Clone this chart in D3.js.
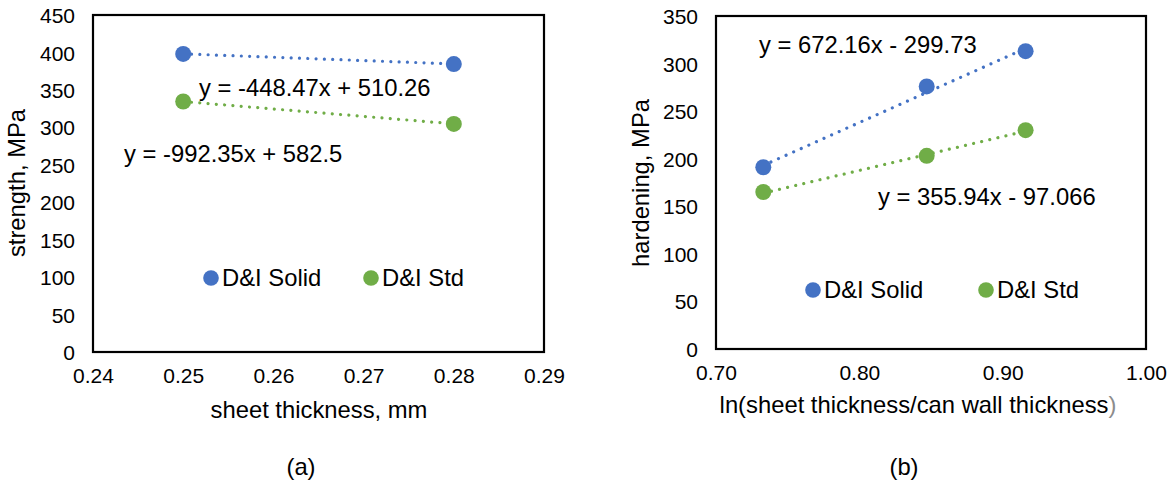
<!DOCTYPE html>
<html><head><meta charset="utf-8">
<script src="https://cdn.jsdelivr.net/npm/d3@7"></script>
<style>
body{margin:0;background:#fff;}
svg{display:block;font-family:"Liberation Sans",Arial,sans-serif;}
</style></head><body>
<svg id="c" width="1174" height="484"></svg>
<script>
// ---- Data ----
const seriesNames = ["D&I Solid", "D&I Std"];
const seriesColors = ["#4472C4", "#70AD47"];

// Chart (a)
const aX = [0.25, 0.28];
const aSolid = [398, 384.5];
const aStd = [334.5, 304.5];
const aTrend = [[-448.47, 510.26], [-992.35, 582.5]];
const aEqText = ["y = -448.47x + 510.26", "y = -992.35x + 582.5"];
const aXTicks = [0.24, 0.25, 0.26, 0.27, 0.28, 0.29];
const aYTicks = [0, 50, 100, 150, 200, 250, 300, 350, 400, 450];

// Chart (b)
const bX = [0.733, 0.847, 0.916];
const bSolid = [191, 276, 313];
const bStd = [165, 203, 230];
const bTrend = [[672.16, -299.73], [355.94, -97.066]];
const bEqText = ["y = 672.16x - 299.73", "y = 355.94x - 97.066"];
const bXTicks = [0.70, 0.80, 0.90, 1.00];
const bYTicks = [0, 50, 100, 150, 200, 250, 300, 350];

const svg = d3.select("#c");
const BIG = 23.8, TICK = 21;

function drawChart(cfg) {
  const g = svg.append("g");
  const x = d3.scaleLinear().domain(cfg.xDomain).range([cfg.left, cfg.right]);
  const y = d3.scaleLinear().domain(cfg.yDomain).range([cfg.bottom, cfg.top]);

  // y axis
  const ya = g.append("g").attr("transform", `translate(${cfg.left},0)`)
    .call(d3.axisLeft(y).tickValues(cfg.yTicks).tickSize(0).tickPadding(18).tickFormat(d3.format("d")));
  ya.select(".domain").remove();
  ya.selectAll("text").attr("font-size", TICK).attr("font-family", "Liberation Sans, Arial, sans-serif")
    .attr("fill", "#000").attr("dy", "0.36em");

  // x axis
  const xa = g.append("g").attr("transform", `translate(0,${cfg.bottom})`)
    .call(d3.axisBottom(x).tickValues(cfg.xTicks).tickSize(0).tickPadding(0).tickFormat(d3.format(cfg.xFmt)));
  xa.select(".domain").remove();
  xa.selectAll("text").attr("font-size", TICK).attr("font-family", "Liberation Sans, Arial, sans-serif")
    .attr("fill", "#000").attr("dy", null).attr("y", cfg.xLabelBase);

  // box
  g.append("rect").attr("x", cfg.left).attr("y", cfg.top)
    .attr("width", cfg.right - cfg.left).attr("height", cfg.bottom - cfg.top)
    .attr("fill", "none").attr("stroke", "#000").attr("stroke-width", 2.2);

  // trendlines
  cfg.series.forEach((ys, i) => {
    const [m, b] = cfg.trend[i];
    const x0 = d3.min(cfg.xs), x1 = d3.max(cfg.xs);
    g.append("line")
      .attr("x1", x(x0)).attr("y1", y(m * x0 + b))
      .attr("x2", x(x1)).attr("y2", y(m * x1 + b))
      .attr("stroke", seriesColors[i]).attr("stroke-width", 3.2)
      .attr("stroke-linecap", "round").attr("stroke-dasharray", "0.01 8.3");
  });
  // points
  cfg.series.forEach((ys, i) => {
    g.selectAll(null).data(ys).enter().append("circle")
      .attr("cx", (d, j) => x(cfg.xs[j])).attr("cy", d => y(d))
      .attr("r", 8).attr("fill", seriesColors[i]);
  });
  // equations
  cfg.eqText.forEach((t, i) => {
    g.append("text").attr("x", cfg.eqPos[i][0]).attr("y", cfg.eqPos[i][1])
      .attr("font-size", BIG).attr("fill", "#000").text(t);
  });
  // legend
  cfg.legend.forEach((p, i) => {
    g.append("circle").attr("cx", p[0]).attr("cy", p[1]).attr("r", 7.8).attr("fill", seriesColors[i]);
    g.append("text").attr("x", p[0] + 11).attr("y", p[1] + 8.3)
      .attr("font-size", BIG).attr("fill", "#000").text(seriesNames[i]);
  });
  // axis titles
  const xt = g.append("text").attr("x", cfg.xTitle[0]).attr("y", cfg.xTitle[1])
    .attr("text-anchor", "middle").attr("font-size", BIG).attr("fill", "#000");
  cfg.xTitleParts.forEach(p => xt.append("tspan").attr("fill", p[1]).text(p[0]));
  g.append("text").attr("transform", `translate(${cfg.yTitle[0]},${cfg.yTitle[1]}) rotate(-90)`)
    .attr("text-anchor", "middle").attr("font-size", BIG).attr("fill", "#000").text(cfg.yTitleText);
  // panel label
  g.append("text").attr("x", cfg.panel[0]).attr("y", cfg.panel[1]).attr("text-anchor", "middle")
    .attr("font-size", BIG).attr("fill", "#000").text(cfg.panelText);
}

drawChart({
  left: 93, right: 544, top: 15, bottom: 352,
  xDomain: [0.24, 0.29], yDomain: [0, 450],
  xTicks: aXTicks, yTicks: aYTicks, xFmt: ".2f", xLabelBase: 31,
  xs: aX, series: [aSolid, aStd], trend: aTrend, eqText: aEqText,
  eqPos: [[199, 96], [124, 162]],
  legend: [[211, 278], [371, 278]],
  xTitle: [319, 418], xTitleParts: [["sheet thickness, mm", "#000"]],
  yTitle: [25, 183], yTitleText: "strength, MPa",
  panel: [301, 475], panelText: "(a)"
});

drawChart({
  left: 716, right: 1146, top: 16, bottom: 349,
  xDomain: [0.70, 1.00], yDomain: [0, 350],
  xTicks: bXTicks, yTicks: bYTicks, xFmt: ".2f", xLabelBase: 31,
  xs: bX, series: [bSolid, bStd], trend: bTrend, eqText: bEqText,
  eqPos: [[759, 53], [878, 205]],
  legend: [[813, 290], [986, 290]],
  xTitle: [918, 413], xTitleParts: [["ln(sheet thickness/can wall thickness", "#000"], [")", "#8c8c8c"]],
  yTitle: [649, 183], yTitleText: "hardening, MPa",
  panel: [904, 475], panelText: "(b)"
});
</script>
</body></html>
